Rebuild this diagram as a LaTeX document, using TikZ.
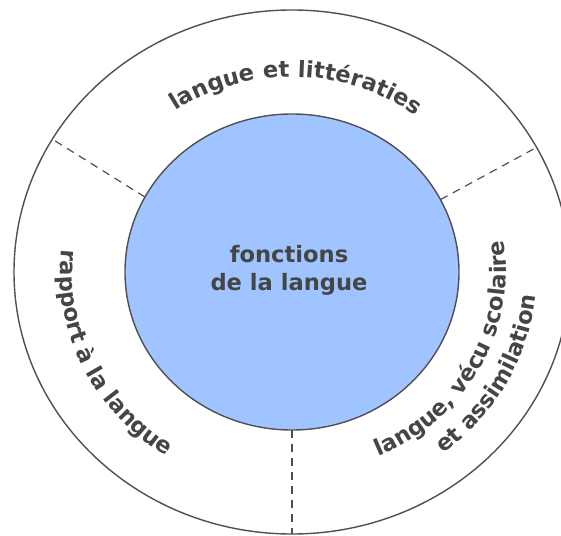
\documentclass[tikz,border=0pt]{standalone}
\usepackage{fontspec}
\setmainfont{DejaVu Sans}
\usetikzlibrary{shapes.geometric,decorations.text}
\definecolor{ringline}{HTML}{505050}
\definecolor{txt}{HTML}{454545}
\definecolor{core}{HTML}{A0C4FF}
\newcommand\lblfont{\bfseries\fontsize{22.6}{28}\selectfont}
\begin{document}
\begin{tikzpicture}[x=1pt,y=1pt,
  ring/.style={ellipse, draw=ringline, line width=1.4pt, inner sep=0pt, outer sep=0pt},
  divider/.style={draw=ringline, line width=1.2pt, dash pattern=on 8pt off 6pt},
  arclabel/.style={decorate, decoration={text along path, text align=center, text color=txt, text={#1}}}
]
\useasboundingbox (-292,-263) rectangle (269,272);
\clip (-292,-263) rectangle (269,272);
\node[ring, minimum width=556pt, minimum height=524pt] (outer) at (0,0) {};
\node[ring, fill=core, minimum width=334pt, minimum height=316pt] (inner) at (0,0) {};
\draw[divider] (inner.153.6) -- (outer.151.6);
\draw[divider] (inner.26.3) -- (outer.27.2);
\draw[divider] (inner.270) -- (outer.270);
\node[font=\lblfont, text=txt, align=center] (title) at (-3,2) {fonctions\\de la langue};
\path[arclabel={|\lblfont|langue et littératies}] (148.75:207 and 195) arc[start angle=148.75, end angle=28.75, x radius=207, y radius=195];
\path[arclabel={|\lblfont|rapport à la langue}] (140:232 and 219) arc[start angle=140, end angle=270, x radius=232, y radius=219];
\path[arclabel={|\lblfont|langue, vécu scolaire}] (-88:214 and 202) arc[start angle=-88, end angle=32, x radius=214, y radius=202];
\path[arclabel={|\lblfont|et assimilation}] (-88:245 and 231) arc[start angle=-88, end angle=32, x radius=245, y radius=231];
\end{tikzpicture}
\end{document}
